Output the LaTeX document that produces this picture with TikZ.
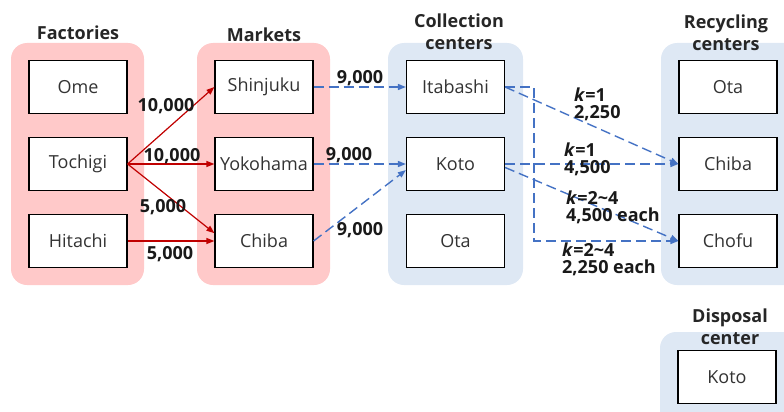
\documentclass[tikz,border=0pt]{standalone}
\usepackage{fontspec}
\setmainfont{Open Sans}
\usetikzlibrary{arrows.meta,calc}
\definecolor{pinkg}{HTML}{FFC9C9}
\definecolor{blueg}{HTML}{DEE8F4}
\definecolor{redarr}{HTML}{C00000}
\definecolor{bluearr}{HTML}{4472C4}
\definecolor{txt}{HTML}{333333}
\begin{document}
\begin{tikzpicture}[x=1pt,y=-1pt,
 grp/.style={rounded corners=16pt},
 box/.style={draw=black, line width=1.2pt, fill=white, minimum width=98pt, minimum height=53pt, inner sep=0pt, font=\fontsize{18}{18}\selectfont, text=txt},
 ttl/.style={font=\fontsize{18}{22}\selectfont\bfseries, align=center, text=black!85, inner sep=0pt},
 lbl/.style={font=\fontsize{18}{17}\selectfont\bfseries, inner sep=0pt, text=black!90},
 lbll/.style={lbl, align=left, anchor=west},
 redflow/.style={draw=redarr, line width=1.2pt, -{Triangle[length=8pt,width=6pt]}},
 blueflow/.style={draw=bluearr, line width=1.4pt, dash pattern=on 10pt off 5pt, -{Triangle[length=8pt,width=6pt]}},
]
\useasboundingbox (0,0) rectangle (784,412);
% groups
\fill[pinkg, grp] (11,43) rectangle (144,285);
\fill[pinkg, grp] (197,43) rectangle (330,285);
\fill[blueg, grp] (388,43) rectangle (523,285);
\fill[blueg, grp] (661,43) rectangle (800,285);
\fill[blueg, grp] (660,332) rectangle (800,440);
% titles
\node[ttl] (tfac) at (78,33) {Factories};
\node[ttl] (tmar) at (264,35) {Markets};
\node[ttl] (tcol) at (459,32) {Collection\\centers};
\node[ttl] (trec) at (726,32.5) {Recycling\\centers};
\node[ttl] (tdis) at (730,326.5) {Disposal\\center};
% boxes
\node[box] (ome) at (78,87) {Ome};
\node[box] (toc) at (78,164) {Tochigi};
\node[box] (hit) at (78,241) {Hitachi};
\node[box] (shi) at (264,87) {Shinjuku};
\node[box] (yok) at (264,164) {Yokohama};
\node[box] (mch) at (264,241) {Chiba};
\node[box] (ita) at (455.5,87) {Itabashi};
\node[box] (kot) at (455.5,164) {Koto};
\node[box] (cota) at (455.5,241) {Ota};
\node[box] (rota) at (728,87) {Ota};
\node[box] (rch) at (728,164) {Chiba};
\node[box] (rcho) at (728,241) {Chofu};
\node[box] (dkot) at (727,377) {Koto};
% red flows
\draw[redflow] (toc.east) -- (shi.west);
\draw[redflow] (toc.east) -- (yok.west);
\draw[redflow] (toc.east) -- (mch.171);
\draw[redflow] (hit.east) -- (mch.west);
% blue flows
\draw[blueflow] (shi.east) -- (ita.west);
\draw[blueflow] (yok.east) -- (kot.west);
\draw[blueflow] (mch.east) -- (kot.187);
\draw[blueflow] (ita.east) -- (rch.west);
\draw[blueflow] (kot.east) -- (rch.west);
\draw[blueflow] (kot.-4) -- (rcho.west);
\draw[blueflow] (ita.east) -- ++(29,0) |- (rcho.west);
% labels
\node[lbl] (a1) at (166,106) {10,000};
\node[lbl] (a2) at (172,156) {10,000};
\node[lbl] (a3) at (163,207) {5,000};
\node[lbl] (a4) at (170,254) {5,000};
\node[lbl] (b1) at (360,78) {9,000};
\node[lbl] (b2) at (349,155) {9,000};
\node[lbl] (b3) at (360,230) {9,000};
\node[lbll] (c1) at (574,104.5) {\textit{k}=1\\2,250};
\node[lbll] (c2) at (564,159) {\textit{k}=1\\4,500};
\node[lbll] (c3) at (566,207.5) {\textit{k}=2\textasciitilde4\\4,500 each};
\node[lbll] (c4) at (562,259) {\textit{k}=2\textasciitilde4\\2,250 each};
\end{tikzpicture}
\end{document}
